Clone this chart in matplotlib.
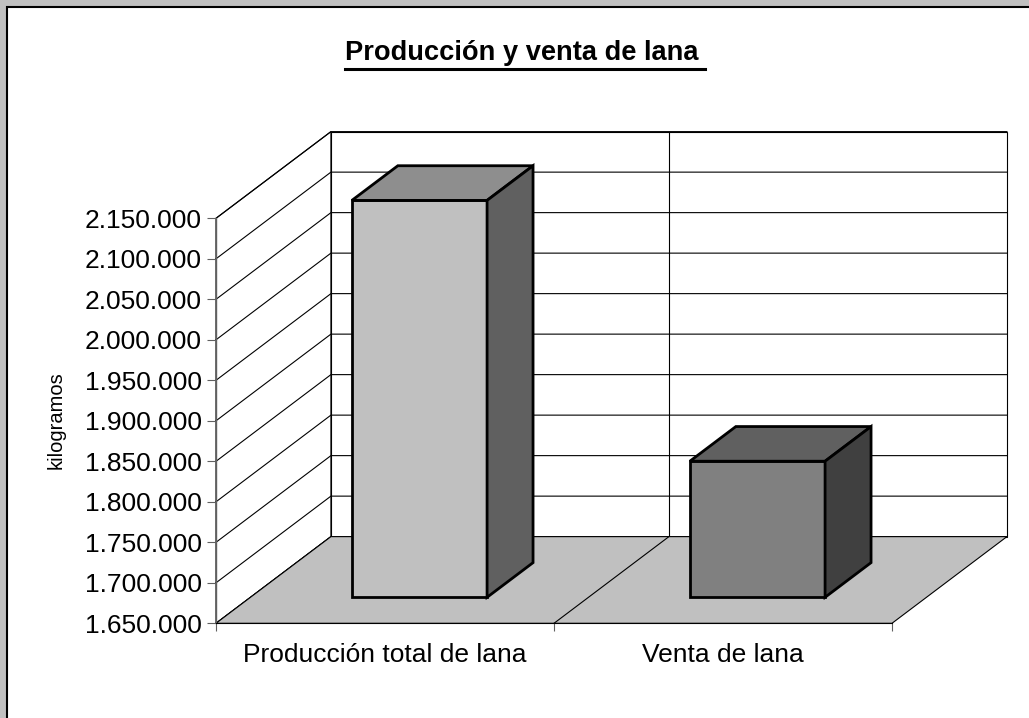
#!/usr/bin/env python3
"""
Producción y venta de lana - Excel style 3D column chart.

Usage:
    python plot.py
"""

import matplotlib
matplotlib.use('Agg')
import matplotlib.pyplot as plt
from matplotlib.patches import Polygon, Rectangle
from matplotlib.lines import Line2D
from matplotlib.ticker import FuncFormatter

# Data
categories = ['Producción total de lana', 'Venta de lana']
values = [2140000, 1818000]
y_ticks = [1650000, 1700000, 1750000, 1800000, 1850000, 1900000,
           1950000, 2000000, 2050000, 2100000, 2150000]

# Bar colours: front, top, side
front_colors = ['#c0c0c0', '#808080']
top_colors = ['#8e8e8e', '#606060']
side_colors = ['#606060', '#404040']

W, H = 1029, 718

# oblique depth offset (x in category units, y in value units)
DX = 0.34
DY = 107000


def proj(x, v, d):
    return (x + d * DX, v + d * DY)


def fmt_kg(v, pos=None):
    return '{:,.0f}'.format(v).replace(',', '.')


def plot_chart(output_file='out.png'):
    plt.rcParams['font.family'] = ['Liberation Sans', 'DejaVu Sans']

    fig = plt.figure(figsize=(W / 100, H / 100), dpi=100)
    fig.patch.set_facecolor('#c0c0c0')

    # white chart area with black border (left/top visible)
    fig.add_artist(Rectangle((7 / W, -0.1), 1.2, 1 - 7 / H + 0.1,
                             transform=fig.transFigure, facecolor='white',
                             edgecolor='black', lw=1.5, zorder=0))

    ax = fig.add_axes([216 / W, 1 - 623.3 / H, 676 / W, 405 / H])
    ax.patch.set_visible(False)
    n = len(categories)
    vmin, vmax = y_ticks[0], y_ticks[-1]
    ax.set_xlim(0, n)
    ax.set_ylim(vmin, vmax)

    # back wall
    ax.add_patch(Polygon([proj(0, vmin, 1), proj(n, vmin, 1),
                          proj(n, vmax, 1), proj(0, vmax, 1)],
                         closed=True, facecolor='white', edgecolor='black',
                         lw=0.8, clip_on=False, zorder=1))
    # side wall
    ax.add_patch(Polygon([proj(0, vmin, 0), proj(0, vmin, 1),
                          proj(0, vmax, 1), proj(0, vmax, 0)],
                         closed=True, facecolor='white', edgecolor='black',
                         lw=0.8, clip_on=False, zorder=1))

    # gridlines on walls
    for v in y_ticks:
        p0, p1, p2 = proj(0, v, 0), proj(0, v, 1), proj(n, v, 1)
        ax.add_line(Line2D([p0[0], p1[0], p2[0]], [p0[1], p1[1], p2[1]],
                           color='black', lw=0.8, clip_on=False, zorder=1.2))
    for i in range(1, n):
        a, b = proj(i, vmin, 1), proj(i, vmax, 1)
        ax.add_line(Line2D([a[0], b[0]], [a[1], b[1]], color='black',
                           lw=0.8, clip_on=False, zorder=1.2))

    # floor
    ax.add_patch(Polygon([proj(0, vmin, 0), proj(n, vmin, 0),
                          proj(n, vmin, 1), proj(0, vmin, 1)],
                         closed=True, facecolor='#c0c0c0', edgecolor='black',
                         lw=0.8, clip_on=False, zorder=1.5))
    for i in range(1, n):
        a, b = proj(i, vmin, 0), proj(i, vmin, 1)
        ax.add_line(Line2D([a[0], b[0]], [a[1], b[1]], color='black',
                           lw=0.8, clip_on=False, zorder=1.6))

    # bars
    half = 0.2
    d0, d1 = 0.3, 0.7
    for i, v in enumerate(values):
        x0, x1 = i + 0.5 - half, i + 0.5 + half
        faces = [
            ([proj(x0, vmin, d0), proj(x1, vmin, d0), proj(x1, v, d0), proj(x0, v, d0)], front_colors[i]),
            ([proj(x0, v, d0), proj(x1, v, d0), proj(x1, v, d1), proj(x0, v, d1)], top_colors[i]),
            ([proj(x1, vmin, d0), proj(x1, vmin, d1), proj(x1, v, d1), proj(x1, v, d0)], side_colors[i]),
        ]
        for pts, col in faces:
            ax.add_patch(Polygon(pts, closed=True, facecolor=col,
                                 edgecolor='black', lw=2, joinstyle='miter',
                                 clip_on=False, zorder=3))

    # axes styling
    for side in ['top', 'right']:
        ax.spines[side].set_visible(False)
    ax.spines['left'].set_color('#606060')
    ax.spines['left'].set_linewidth(1)
    ax.spines['bottom'].set_color('black')
    ax.spines['bottom'].set_linewidth(0.8)

    ax.set_yticks(y_ticks)
    ax.yaxis.set_major_formatter(FuncFormatter(fmt_kg))
    ax.tick_params(axis='y', length=6.5, width=0.8, color='#606060',
                   pad=3.8, labelsize=19)

    ax.set_xticks([i + 0.5 for i in range(n)])
    ax.set_xticklabels(categories)
    ax.set_xticks(list(range(n + 1)), minor=True)
    ax.tick_params(axis='x', which='major', length=0, pad=14, labelsize=19)
    ax.tick_params(axis='x', which='minor', length=6, width=0.8,
                   color='#606060', direction='out')

    ax.set_ylabel('kilogramos', fontsize=14.5)
    ax.yaxis.set_label_coords(-0.222, 0.502)

    # title with underline
    title = fig.text(521.5 / W, 1 - 60 / H, 'Producción y venta de lana',
                     ha='center', va='baseline', fontsize=19.6,
                     fontweight='bold')
    fig.canvas.draw()
    bb = title.get_window_extent().transformed(fig.transFigure.inverted())
    uy = 1 - 68.5 / H
    fig.add_artist(Line2D([bb.x0, bb.x1 + 7 / W], [uy, uy], color='black',
                          lw=2.2, transform=fig.transFigure))

    plt.savefig(output_file, dpi=100, facecolor=fig.get_facecolor())
    print(f"Plot saved to: {output_file}")


def main():
    plot_chart('out.png')


if __name__ == '__main__':
    main()
